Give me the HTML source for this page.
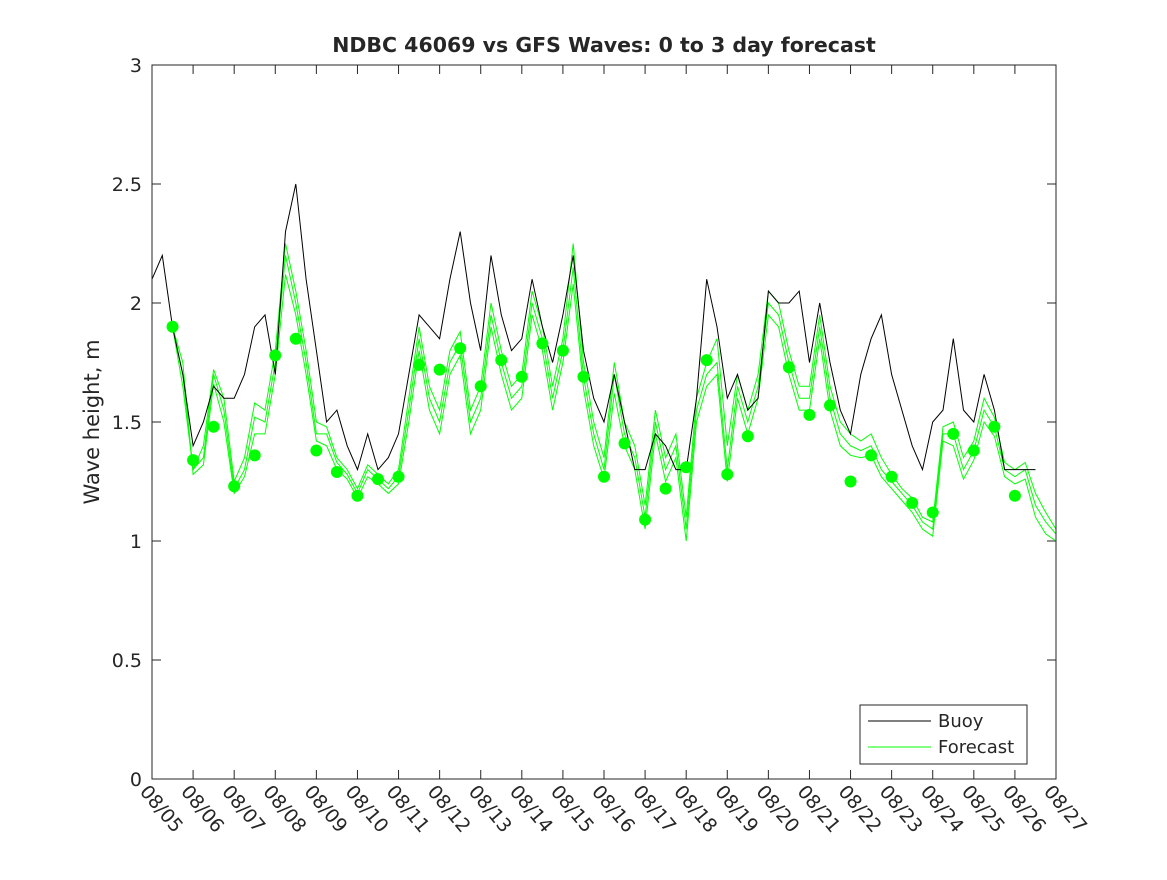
<!DOCTYPE html>
<html><head><meta charset="utf-8"><style>
body{margin:0;background:#fff;}
svg text{font-family:"DejaVu Sans","Liberation Sans",sans-serif;fill:#262626;}
</style></head><body>
<svg id="chart" width="1167" height="875">
<rect x="0" y="0" width="1167" height="875" fill="#fff"/>
<text x="604" y="52" text-anchor="middle" font-size="20.5" font-weight="bold" fill="#000">NDBC 46069 vs GFS Waves: 0 to 3 day forecast</text>
<text transform="translate(99,422) rotate(-90)" text-anchor="middle" font-size="21">Wave height, m</text>
<g id="plot"></g>
<rect x="152" y="65" width="904" height="714" fill="none" stroke="#262626" stroke-width="1"/>
<g>
<rect x="860" y="705" width="167" height="59" fill="#fff" stroke="#262626"/>
<line x1="868" y1="721" x2="931" y2="721" stroke="#000"/>
<text x="938" y="727" font-size="18">Buoy</text>
<line x1="868" y1="747" x2="931" y2="747" stroke="#00ff00"/>
<text x="938" y="753" font-size="18">Forecast</text>
</g>
</svg>
<script>
const yTicks=[0,0.5,1,1.5,2,2.5,3];
const yTickLabels=["0","0.5","1","1.5","2","2.5","3"];
const xTickLabels=["08/05","08/06","08/07","08/08","08/09","08/10","08/11","08/12","08/13","08/14","08/15","08/16","08/17","08/18","08/19","08/20","08/21","08/22","08/23","08/24","08/25","08/26","08/27"];
const buoyStartDay=0, buoyStep=0.25;
const buoy=[2.1,2.2,1.9,1.7,1.4,1.5,1.65,1.6,1.6,1.7,1.9,1.95,1.7,2.3,2.5,2.1,1.8,1.5,1.55,1.4,1.3,1.45,1.3,1.35,1.45,1.7,1.95,1.9,1.85,2.1,2.3,2.0,1.8,2.2,1.95,1.8,1.85,2.1,1.9,1.75,1.95,2.2,1.8,1.6,1.5,1.7,1.5,1.3,1.3,1.45,1.4,1.3,1.3,1.6,2.1,1.9,1.6,1.7,1.55,1.6,2.05,2.0,2.0,2.05,1.75,2.0,1.75,1.55,1.45,1.7,1.85,1.95,1.7,1.55,1.4,1.3,1.5,1.55,1.85,1.55,1.5,1.7,1.55,1.3,1.3,1.3,1.3];
const fcStartDay=0.5, fcStep=0.25;
const fcA=[1.9,1.7,1.3,1.35,1.7,1.55,1.22,1.3,1.52,1.5,1.75,2.2,2.0,1.75,1.45,1.45,1.33,1.28,1.2,1.3,1.26,1.22,1.27,1.55,1.85,1.6,1.5,1.75,1.83,1.5,1.6,1.95,1.75,1.6,1.65,2.0,1.85,1.6,1.8,2.15,1.69,1.45,1.3,1.7,1.45,1.35,1.1,1.5,1.3,1.4,1.05,1.55,1.7,1.75,1.3,1.65,1.5,1.65,2.0,1.95,1.75,1.6,1.6,1.9,1.6,1.45,1.4,1.38,1.4,1.3,1.25,1.2,1.15,1.08,1.05,1.45,1.45,1.3,1.38,1.55,1.48,1.3,1.27,1.3,1.15,1.08,1.03];
const fcB=[1.9,1.65,1.3,1.4,1.72,1.6,1.25,1.35,1.58,1.55,1.8,2.25,2.05,1.8,1.5,1.48,1.35,1.3,1.22,1.32,1.28,1.24,1.3,1.6,1.9,1.65,1.55,1.8,1.88,1.55,1.65,2.0,1.8,1.65,1.7,2.05,1.9,1.65,1.85,2.25,1.75,1.5,1.35,1.75,1.5,1.4,1.15,1.55,1.35,1.45,1.1,1.6,1.75,1.85,1.4,1.7,1.55,1.7,2.05,2.0,1.8,1.65,1.65,1.95,1.65,1.5,1.45,1.42,1.45,1.35,1.28,1.22,1.18,1.1,1.08,1.48,1.5,1.35,1.42,1.6,1.52,1.33,1.3,1.33,1.2,1.12,1.05];
const fcC=[1.9,1.75,1.28,1.32,1.66,1.5,1.2,1.27,1.45,1.45,1.7,2.12,1.95,1.7,1.42,1.4,1.3,1.26,1.18,1.27,1.24,1.2,1.24,1.5,1.8,1.55,1.45,1.7,1.78,1.45,1.55,1.9,1.7,1.55,1.6,1.95,1.8,1.55,1.75,2.08,1.64,1.4,1.26,1.62,1.4,1.3,1.05,1.45,1.25,1.35,1.0,1.5,1.65,1.7,1.25,1.6,1.45,1.6,1.95,1.9,1.7,1.55,1.55,1.85,1.55,1.4,1.36,1.35,1.36,1.27,1.22,1.17,1.12,1.05,1.02,1.42,1.4,1.26,1.34,1.5,1.44,1.27,1.24,1.26,1.1,1.03,1.0];
const dotStartDay=0.5, dotStep=0.5;
const dots=[1.9,1.34,1.48,1.23,1.36,1.78,1.85,1.38,1.29,1.19,1.26,1.27,1.74,1.72,1.81,1.65,1.76,1.69,1.83,1.80,1.69,1.27,1.41,1.09,1.22,1.31,1.76,1.28,1.44,null,1.73,1.53,1.57,1.25,1.36,1.27,1.16,1.12,1.45,1.38,1.48,1.19];

const NS="http://www.w3.org/2000/svg";
const X0=152,X1=1056,Y0=779,Y1=65,DAYS=22,YMAX=3;
function xs(d){return X0+(X1-X0)*d/DAYS;}
function ys(v){return Y0-(Y0-Y1)*v/YMAX;}
const plot=document.getElementById('plot');
function el(t,a,p){const e=document.createElementNS(NS,t);for(const k in a)e.setAttribute(k,a[k]);(p||plot).appendChild(e);return e;}
yTicks.forEach((v,i)=>{
  const y=ys(v);
  const t1=el('line',{x1:X0,y1:y,x2:X0+9,y2:y,stroke:'#262626'});
  
  
  const t2=el('line',{x1:X1-9,y1:y,x2:X1,y2:y,stroke:'#262626'});
  
  
  const tx=el('text',{x:X0-10,y:y+7,'text-anchor':'end','font-size':'19'});
  tx.textContent=yTickLabels[i];
  
  
});
xTickLabels.forEach((lab,i)=>{
  const x=xs(i);
  const t1=el('line',{x1:x,y1:Y0,x2:x,y2:Y0-9,stroke:'#262626'});
  
  
  const t2=el('line',{x1:x,y1:Y1,x2:x,y2:Y1+9,stroke:'#262626'});
  
  
  const tx=el('text',{x:0,y:0,'font-size':'19',transform:`translate(${x-13},${Y0+13}) rotate(50)`});
  tx.textContent=lab;
  
  
});
function line(arr,start,step,color,w,name){
  const pts=arr.map((v,i)=>xs(start+i*step).toFixed(1)+','+ys(v).toFixed(1)).join(' ');
  const p=el('polyline',{points:pts,fill:'none',stroke:color,'stroke-width':w});
  
  
}
line(fcA,fcStartDay,fcStep,'#00ff00',1,'forecast-line-a');
line(fcB,fcStartDay,fcStep,'#00ff00',1,'forecast-line-b');
line(fcC,fcStartDay,fcStep,'#00ff00',1,'forecast-line-c');
line(buoy,buoyStartDay,buoyStep,'#000',1,'buoy-line');
dots.forEach((v,i)=>{
  if(v===null)return;
  const c=el('circle',{cx:xs(dotStartDay+i*dotStep),cy:ys(v),r:6,fill:'#00ff00'});
  
  
});
</script>
</body></html>
